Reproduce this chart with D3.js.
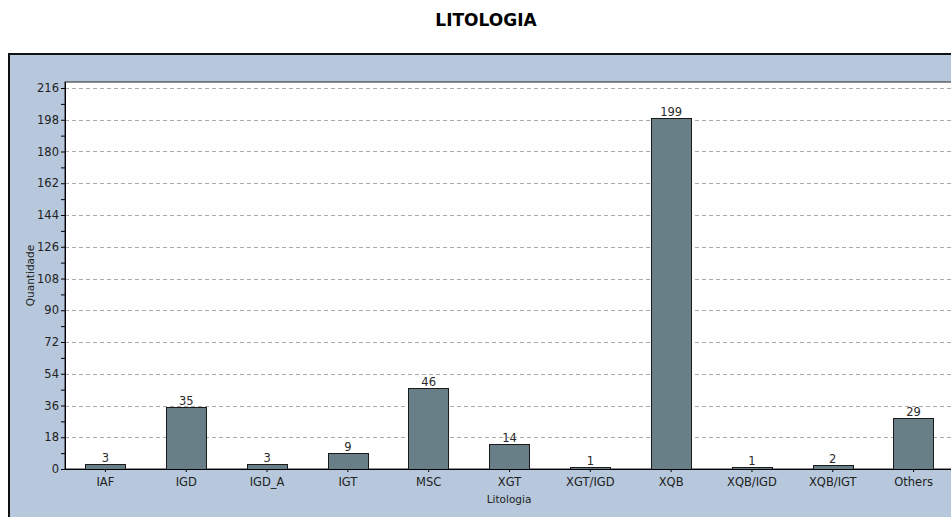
<!DOCTYPE html>
<html>
<head>
<meta charset="utf-8">
<script src="https://cdn.jsdelivr.net/npm/d3@7"></script>
<style>
  body { margin: 0; background: #fff; overflow: hidden; }
  text { font-family: "DejaVu Sans", Verdana, sans-serif; }
</style>
</head>
<body>
<script>
// chart data
var categories = ["IAF", "IGD", "IGD_A", "IGT", "MSC", "XGT", "XGT/IGD", "XQB", "XQB/IGD", "XQB/IGT", "Others"];
var counts = [3, 35, 3, 9, 46, 14, 1, 199, 1, 2, 29];
var yTicks = [0, 18, 36, 54, 72, 90, 108, 126, 144, 162, 180, 198, 216];

var W = 951, H = 517;
var margin = {top: 82, right: -3, bottom: 48, left: 65},
    width = W - margin.left - margin.right,
    height = H - margin.top - margin.bottom;

var svg = d3.select("body")
  .append("svg")
    .attr("width", W)
    .attr("height", H);

// title
svg.append("text")
    .text("LITOLOGIA")
    .attr("x", 486)
    .attr("y", 26)
    .attr("text-anchor", "middle")
    .style("font-size", "17px")
    .style("font-weight", "bold")
    .style("fill", "#000");

// outer panel
svg.append("rect")
    .attr("x", 9)
    .attr("y", 54)
    .attr("width", W + 10)
    .attr("height", H)
    .style("fill", "#b7c8dc")
    .style("stroke", "#111")
    .style("stroke-width", 2);

var g = svg.append("g")
    .attr("transform", "translate(" + margin.left + "," + margin.top + ")");

var x = d3.scaleBand()
    .domain(categories)
    .range([0, width])
    .paddingInner(0.5)
    .paddingOuter(0.25);

var y = d3.scaleLinear()
    .domain([0, 216])
    .range([height, 6]);

// plot area
g.append("rect")
    .attr("x", 0)
    .attr("y", 0)
    .attr("width", width)
    .attr("height", height)
    .style("fill", "#fff")
    .style("stroke", "#222")
    .style("stroke-width", 1);

// grid lines
g.selectAll(".grid")
    .data(yTicks.slice(1))
    .enter()
    .append("line")
      .attr("x1", 0)
      .attr("x2", width)
      .attr("y1", function(d) { return Math.round(y(d)) + 0.5; })
      .attr("y2", function(d) { return Math.round(y(d)) + 0.5; })
      .style("stroke", "#aaa")
      .style("stroke-dasharray", "4,3");

// bars
g.selectAll(".bar")
    .data(categories)
    .enter()
    .append("rect")
      .attr("x", function(d) { return Math.round(x(d)) + 0.5; })
      .attr("y", function(d, i) { return Math.round(y(counts[i])) + 0.5; })
      .attr("width", Math.round(x.bandwidth()))
      .attr("height", function(d, i) { return Math.round(y(0)) - Math.round(y(counts[i])); })
      .style("fill", "#687f88")
      .style("stroke", "#1a1a1a")
      .style("stroke-width", 1);

// value labels
g.selectAll(".val")
    .data(categories)
    .enter()
    .append("text")
      .text(function(d, i) { return counts[i]; })
      .attr("x", function(d) { return x(d) + x.bandwidth() / 2; })
      .attr("y", function(d, i) { return y(counts[i]) - 2; })
      .attr("text-anchor", "middle")
      .style("font-size", "11.5px")
      .style("fill", "#2a2a2a");

// y axis
var yAxis = g.append("g")
    .call(d3.axisLeft(y).tickValues(yTicks).tickSize(4).tickPadding(2));
yAxis.select(".domain").remove();
yAxis.selectAll("text").style("font-size", "11.5px").style("fill", "#222");

// minor ticks
var minor = d3.range(9, 216, 18);
g.append("g")
    .call(d3.axisLeft(y).tickValues(minor).tickSize(4).tickFormat(""))
    .select(".domain").remove();

g.append("line")
    .attr("x1", 0.5).attr("x2", 0.5)
    .attr("y1", 0).attr("y2", height)
    .style("stroke", "#000");

// x axis
var xAxis = g.append("g")
    .attr("transform", "translate(0," + height + ")")
    .call(d3.axisBottom(x).tickSize(3).tickPadding(6));
xAxis.select(".domain").remove();
xAxis.selectAll("text").style("font-size", "11.5px").style("fill", "#222");

g.append("line")
    .attr("x1", 0).attr("x2", width)
    .attr("y1", height + 0.5).attr("y2", height + 0.5)
    .style("stroke", "#000");

// axis titles
svg.append("text")
    .text("Litologia")
    .attr("x", 509)
    .attr("y", 503)
    .attr("text-anchor", "middle")
    .style("font-size", "10.5px")
    .style("fill", "#222");

svg.append("text")
    .text("Quantidade")
    .attr("text-anchor", "middle")
    .attr("transform", "translate(34," + (margin.top + height / 2) + ") rotate(-90)")
    .style("font-size", "10.5px")
    .style("fill", "#222");
</script>
</body>
</html>
